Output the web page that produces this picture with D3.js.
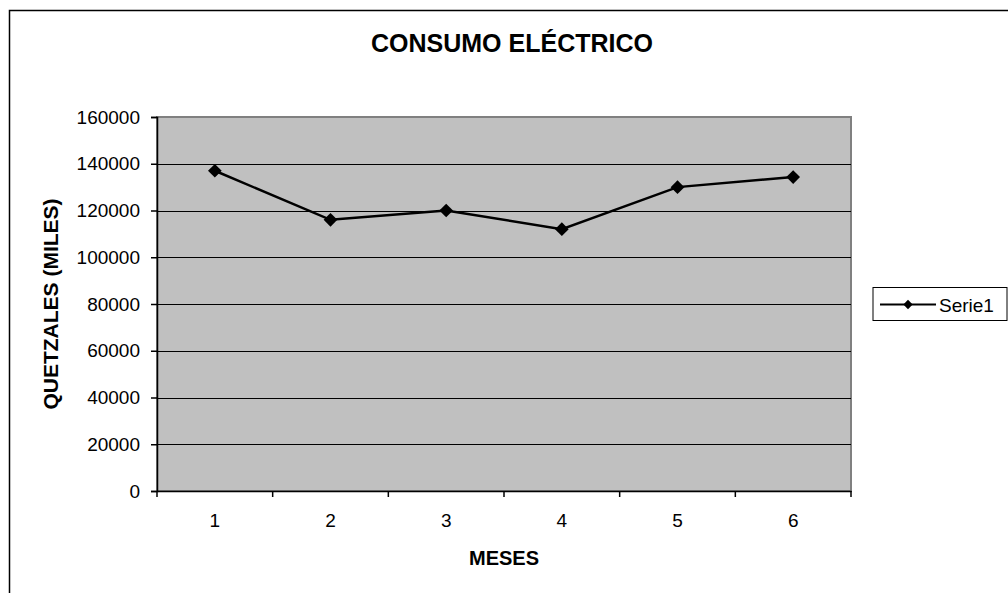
<!DOCTYPE html>
<html>
<head>
<meta charset="utf-8">
<script src="https://cdn.jsdelivr.net/npm/d3@7"></script>
<style>
  body { margin: 0; background: #fff; }
  text { font-family: Arial, "Liberation Sans", sans-serif; fill: #000; }
</style>
</head>
<body>
<div id="container"></div>
<script>
// datos
let meses = ["1", "2", "3", "4", "5", "6"];
let consumo = [137000, 116000, 120000, 112000, 130000, 134300];
let yTicks = [0, 20000, 40000, 60000, 80000, 100000, 120000, 140000, 160000];
let serieName = "Serie1";

let w = 1008;
let h = 593;
let plotLeft = 157, plotRight = 851, plotTop = 117, plotBottom = 491;

let viz = d3.select("#container")
  .append("svg")
    .attr("width", w)
    .attr("height", h)
;

// marco exterior
viz.append("rect")
  .attr("x", 9.5).attr("y", 10.5)
  .attr("width", w + 20).attr("height", h + 20)
  .attr("fill", "#fff")
  .attr("stroke", "#000")
  .attr("stroke-width", 1.5)
;

let xScale = d3.scaleBand().domain(meses).range([plotLeft, plotRight]);
let yScale = d3.scaleLinear().domain([0, 160000]).range([plotBottom, plotTop]);

// area del grafico
viz.append("rect")
  .attr("x", plotLeft).attr("y", plotTop)
  .attr("width", plotRight - plotLeft).attr("height", plotBottom - plotTop)
  .attr("fill", "#c0c0c0")
  .attr("stroke", "#808080")
  .attr("stroke-width", 2)
;

// lineas de cuadricula
viz.append("g").selectAll("line")
  .data(yTicks.slice(1, -1))
  .enter().append("line")
    .attr("x1", plotLeft).attr("x2", plotRight)
    .attr("y1", d => Math.round(yScale(d)) + 0.5)
    .attr("y2", d => Math.round(yScale(d)) + 0.5)
    .attr("stroke", "#000")
    .attr("stroke-width", 1)
;

let yAxis = d3.axisLeft(yScale)
  .tickValues(yTicks)
  .tickSize(6)
  .tickPadding(11)
  .tickFormat(d3.format("d"));
let yAxisGroup = viz.append("g")
  .attr("transform", "translate(" + plotLeft + ",0)")
  .call(yAxis);
yAxisGroup.attr("font-family", null).attr("font-size", null);
yAxisGroup.selectAll("text").style("font-size", "19px");
yAxisGroup.selectAll("line,path").attr("stroke", "#000").attr("stroke-width", 1.5);

let xAxis = d3.axisBottom(xScale).tickSize(0).tickPadding(23);
let xAxisGroup = viz.append("g")
  .attr("transform", "translate(0," + plotBottom + ")")
  .call(xAxis);
xAxisGroup.attr("font-family", null).attr("font-size", null);
xAxisGroup.select(".domain").attr("stroke", "#000").attr("stroke-width", 1.5);
xAxisGroup.selectAll("text").style("font-size", "19px");

// marcas entre categorias
let bounds = meses.map(d => xScale(d)).concat([plotRight]);
xAxisGroup.selectAll(".sep")
  .data(bounds)
  .enter().append("line")
    .attr("class", "sep")
    .attr("x1", d => d).attr("x2", d => d)
    .attr("y1", 0).attr("y2", 6)
    .attr("stroke", "#000").attr("stroke-width", 1.5)
;

// serie
let lineMaker = d3.line()
  .x((d, i) => xScale(meses[i]) + xScale.bandwidth() / 2)
  .y(d => yScale(d));

viz.append("path")
  .datum(consumo)
  .attr("d", lineMaker)
  .attr("fill", "none")
  .attr("stroke", "#000")
  .attr("stroke-width", 2.5)
;

let diamond = d3.symbol().type(d3.symbolDiamond2).size(120);
viz.append("g").selectAll("path")
  .data(consumo)
  .enter().append("path")
    .attr("d", diamond)
    .attr("transform", (d, i) => "translate(" + (xScale(meses[i]) + xScale.bandwidth() / 2) + "," + yScale(d) + ")")
    .attr("fill", "#000")
;

// titulos
viz.append("text")
  .attr("x", 512).attr("y", 52)
  .attr("text-anchor", "middle")
  .style("font-size", "25px").style("font-weight", "bold")
  .text("CONSUMO ELÉCTRICO");

viz.append("text")
  .attr("x", (plotLeft + plotRight) / 2).attr("y", 565)
  .attr("text-anchor", "middle")
  .style("font-size", "20px").style("font-weight", "bold")
  .text("MESES");

viz.append("text")
  .attr("transform", "translate(58," + ((plotTop + plotBottom) / 2) + ") rotate(-90)")
  .attr("text-anchor", "middle")
  .style("font-size", "21px").style("font-weight", "bold")
  .text("QUETZALES (MILES)");

// leyenda
let legend = viz.append("g").attr("transform", "translate(873,287.5)");
legend.append("rect")
  .attr("width", 134).attr("height", 33)
  .attr("fill", "#fff").attr("stroke", "#000").attr("stroke-width", 1);
legend.append("line")
  .attr("x1", 7).attr("x2", 63).attr("y1", 17).attr("y2", 17)
  .attr("stroke", "#000").attr("stroke-width", 2);
legend.append("path")
  .attr("d", d3.symbol().type(d3.symbolDiamond2).size(55))
  .attr("transform", "translate(35,17)")
  .attr("fill", "#000");
legend.append("text")
  .attr("x", 66).attr("y", 24)
  .style("font-size", "19px")
  .text(serieName);
</script>
</body>
</html>
